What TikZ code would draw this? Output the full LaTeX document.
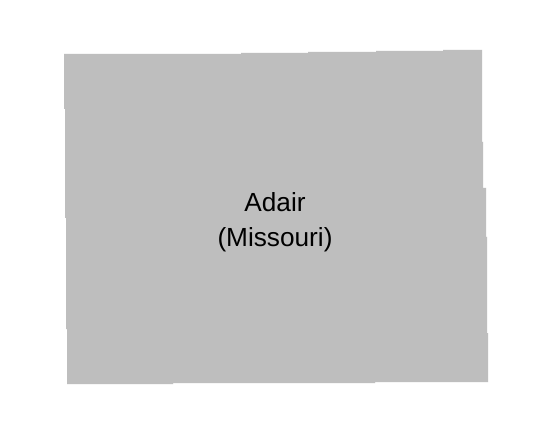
\documentclass[tikz,border=0pt]{standalone}
\usepackage{fontspec}
\setmainfont{Liberation Sans}
\definecolor{countygray}{RGB}{190,190,190}
\tikzset{
  county/.style={fill=countygray,draw=none},
  countylabel/.style={align=center,text=black,inner sep=0pt,font=\fontsize{19.65pt}{26.25pt}\selectfont}
}
\begin{document}
\begin{tikzpicture}[x=0.75pt,y=-0.75pt]
\useasboundingbox (0,0) rectangle (552,434);
\fill[white] (0,0) rectangle (552,434);
\path[county] (64,54) -| (241,53) -| (308,52) -| (376,51) -| (443,50) -| (482,142)
  -| (483,188) -| (486,237) -| (487,333) -| (488,382) -| (375,383) -| (173,384)
  -| (67,329) -| (66,218) -| (65,109) -| (64,54) -- cycle;
\node[countylabel] (adair) at (275,222.3) {Adair\\(Missouri)};
\end{tikzpicture}
\end{document}
